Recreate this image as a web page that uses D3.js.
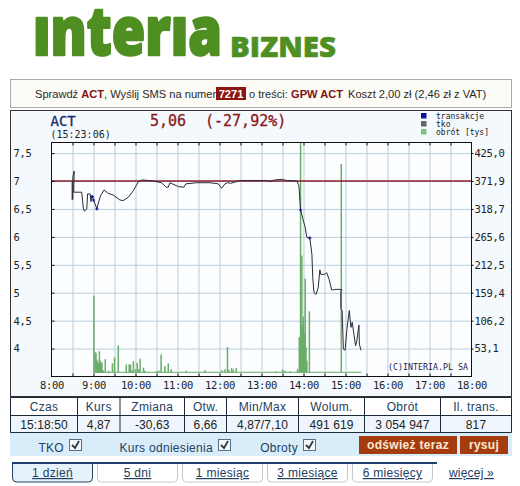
<!DOCTYPE html>
<html>
<head>
<meta charset="utf-8">
<script src="https://cdnjs.cloudflare.com/ajax/libs/d3/7.8.5/d3.min.js"></script>
<style>
html, body { margin: 0; padding: 0; background: #fff; }
svg { display: block; }
.mono { font-family: "DejaVu Sans Mono", monospace; }
.sans { font-family: "Liberation Sans", Arial, sans-serif; }
.axis path { display: none; }
.axis line { stroke: #111; }
.axis text { font-family: "DejaVu Sans Mono", monospace; font-size: 10.5px; letter-spacing: -0.3px; fill: #222; }
.grid path { display: none; }
.grid line { stroke: #b9cfdc; }
</style>
</head>
<body>
<div id="chart"></div>
<script>
var hourTicks = [8, 9, 10, 11, 12, 13, 14, 15, 16, 17, 18];
var halfHours = [8.5, 9, 9.5, 10, 10.5, 11, 11.5, 12, 12.5, 13, 13.5, 14, 14.5, 15, 15.5, 16, 16.5, 17, 17.5];
var priceTicks = [4, 4.5, 5, 5.5, 6, 6.5, 7, 7.5];
var obrotTicks = [53.1, 106.2, 159.4, 212.5, 265.6, 318.7, 371.9, 425.0];
var refPrice = 7;

// kurs: [godzina, cena]
var kurs = [[8.5,6.68],[8.51,7.08],[8.54,7.18],[8.53,6.8],[8.72,6.8],[8.76,6.5],[8.78,6.46],[8.84,6.5],[8.86,6.77],
  [8.92,6.77],[8.94,6.63],[8.96,6.74],[8.995,6.68],[9.08,6.5],[9.11,6.59],[9.17,6.74],[9.25,6.84],[9.35,6.78],
  [9.47,6.75],[9.63,6.66],[9.71,6.65],[9.83,6.71],[9.95,6.83],[10.07,6.99],[10.16,7.02],[10.42,7],[10.62,6.97],
  [10.73,6.89],[10.78,6.89],[10.82,6.97],[11.02,6.9],[11.15,6.89],[11.2,6.95],[11.46,6.97],[11.77,6.97],[11.97,6.95],
  [12.05,6.87],[12.13,6.95],[12.19,6.97],[12.27,6.96],[12.49,7.01],[13.12,7.01],[13.2,6.99],[13.32,7.02],[13.48,7.03],
  [13.6,7.01],[13.84,7],[13.89,6.92],[13.93,6.48],[14.04,6.17],[14.08,5.99],[14.15,5.98],[14.2,5.69],[14.22,5.27],
  [14.25,5],[14.3,4.97],[14.35,5.09],[14.39,5.41],[14.41,5.33],[14.51,5.33],[14.55,5.36],[14.61,5.24],[14.67,5.05],
  [14.71,5.05],[14.75,5.06],[14.87,5.06],[14.92,5.05],[14.89,5.03],[14.89,4.71],[14.92,4.68],[14.95,3.99],[14.99,3.97],
  [15.03,4.32],[15.09,4.68],[15.13,4.38],[15.16,4.47],[15.24,4.05],[15.27,4.14],[15.32,4.42],[15.33,4.08],[15.37,3.97]];
var tko = [[8.5,6.66],[8.5,7.0]];
var transakcje = [[8.97,6.72],[9,6.66],[9.08,6.5],[13.93,6.48],[14.15,5.98]];

// obrot [tys]: [godzina, wartosc]
var obrot = [[9.01,154],[9.04,46],[9.06,45],[9.08,32],[9.1,28],[9.12,24],[9.14,48],[9.16,30],[9.18,22],[9.2,27],[9.23,12],
  [9.28,33],[9.36,11],[9.45,25],[9.5,36],[9.59,59],[9.78,23],[9.85,23],[9.88,23],[9.92,12],[9.95,29],[10,14],[10.04,26],
  [10.08,14],[10.11,34],[10.19,17],[10.22,11],[10.5,10],[10.56,11],[10.61,42],[10.7,20],[10.78,25],[10.85,14],[11.21,11],
  [11.66,12],[12.06,12],[12.13,14],[12.19,56],[12.22,13],[12.29,16],[12.33,13],[12.4,16],[13.35,10],[13.5,13],[13.56,11],
  [13.68,10],[13.86,14],[13.9,75],[13.93,446],[13.96,230],[13.98,97],[14,114],[14.02,82],[14.04,186],[14.06,56],[14.08,30],
  [14.14,124],[14.9,404]];
var obrotBase = [[9,8],[15.38,8]];

var naglowki = ["Czas", "Kurs", "Zmiana", "Otw.", "Min/Max", "Wolum.", "Obrót", "Il. trans."];
var wartosci = ["15:18:50", "4,87", "-30,63", "6,66", "4,87/7,10", "491 619", "3 054 947", "817"];
var kolumny = [10.5, 77.5, 120, 184.5, 226.5, 298.5, 364.5, 440.5, 511.5];
var opcje = ["TKO", "Kurs odniesienia", "Obroty"];
var zakladki = ["1 dzień", "5 dni", "1 miesiąc", "3 miesiące", "6 miesięcy"];
var legenda = ["transakcje", "tko", "obrót [tys]"];
var legendaKolory = ["#10109a", "#666666", "#80c080"];

var svg = d3.select("#chart").append("svg").attr("width", 520).attr("height", 486);

// logo, szerokosc dopasowana przez skale
function logo(tekst, xx, yy, size, szer, gr) {
    var t = svg.append("text")
        .attr("font-family", "Open Sans").attr("font-weight", 800).attr("font-size", size)
        .attr("fill", "#4f8f22").attr("stroke", "#4f8f22").attr("stroke-width", gr)
        .attr("stroke-linejoin", "round").text(tekst);
    var s = szer / t.node().getComputedTextLength();
    t.attr("transform", "translate(" + xx + "," + yy + ") scale(" + s + ",1)");
}
logo("ınterıa", 33, 55, 67, 189, 2.5);
logo("BIZNES", 230, 56.5, 28, 106, 0.6);

// pasek SMS
svg.append("rect").attr("x", 10.5).attr("y", 79.5).attr("width", 501).attr("height", 28)
    .attr("fill", "#fdfbf6").attr("stroke", "#a9a9b0");
svg.append("rect").attr("x", 216).attr("y", 87).attr("width", 30).attr("height", 13).attr("fill", "#8e1410");
var sms = svg.append("text").attr("class", "sans").attr("x", 35).attr("y", 98)
    .attr("font-size", 11.1).attr("fill", "#2a2a2a");
sms.append("tspan").text("Sprawdź ");
sms.append("tspan").attr("fill", "#7d1414").attr("font-weight", "bold").text("ACT");
sms.append("tspan").text(", Wyślij SMS na numer");
svg.append("text").attr("class", "sans").attr("x", 231).attr("y", 98).attr("text-anchor", "middle")
    .attr("font-size", 11.1).attr("font-weight", "bold").attr("fill", "#fff").text("7271");
svg.append("text").attr("class", "sans").attr("x", 249).attr("y", 98).attr("font-size", 11.1).attr("fill", "#2a2a2a").text("o treści:");
svg.append("text").attr("class", "sans").attr("x", 291).attr("y", 98).attr("font-size", 11.1).attr("font-weight", "bold").attr("fill", "#7d1414").text("GPW ACT");
svg.append("text").attr("class", "sans").attr("x", 348).attr("y", 98).attr("font-size", 11.1).attr("fill", "#2a2a2a").text("Koszt 2,00 zł (2,46 zł z VAT)");

// panel wykresu
svg.append("rect").attr("x", 10.5).attr("y", 110.5).attr("width", 501).attr("height", 286)
    .attr("fill", "#f4f9fe").attr("stroke", "#333");

var margin = { left: 51.5, right: 471.5, top: 142.5, bottom: 376.5 };
var x = d3.scaleLinear().domain([8, 18]).range([margin.left, margin.right]);
var y = d3.scaleLinear().domain([3.5, 7.69]).range([margin.bottom, margin.top]);
var yObrot = d3.scaleLinear().domain([0, 445]).range([margin.bottom, margin.top]);
var plotW = margin.right - margin.left, plotH = margin.bottom - margin.top;

svg.append("rect").attr("x", margin.left).attr("y", margin.top).attr("width", plotW).attr("height", plotH).attr("fill", "#fbfdff");

svg.append("g").attr("class", "grid").attr("transform", "translate(0," + margin.bottom + ")")
    .call(d3.axisBottom(x).tickValues(halfHours).tickSize(-plotH).tickFormat(""));
svg.append("g").attr("class", "grid").attr("transform", "translate(" + margin.left + ",0)")
    .call(d3.axisLeft(y).tickValues(priceTicks).tickSize(-plotW).tickFormat(""));

// obrot
var kolorObrot = "#68ad68";
svg.append("g").selectAll("rect").data(obrot).enter().append("rect")
    .attr("x", function(d) { return x(d[0]) - 0.75; })
    .attr("width", 1.5)
    .attr("y", function(d) { return yObrot(d[1]); })
    .attr("height", function(d) { return yObrot(0) - yObrot(d[1]) - 4; })
    .attr("fill", kolorObrot);
svg.append("path").datum(obrotBase)
    .attr("d", d3.line().x(function(d) { return x(d[0]); }).y(function(d) { return yObrot(d[1]); }))
    .attr("fill", "none").attr("stroke", kolorObrot).attr("stroke-width", 1);

// kurs odniesienia
svg.append("line").attr("x1", x(8)).attr("x2", x(18)).attr("y1", y(refPrice)).attr("y2", y(refPrice))
    .attr("stroke", "#8c1c2c").attr("stroke-width", 1.4);

var linia = d3.line().x(function(d) { return x(d[0]); }).y(function(d) { return y(d[1]); });
svg.append("path").datum(tko).attr("d", linia).attr("fill", "none").attr("stroke", "#666").attr("stroke-width", 2);
svg.append("path").datum(kurs).attr("d", linia).attr("fill", "none").attr("stroke", "#2b2b38").attr("stroke-width", 1);
svg.append("g").selectAll("path").data(transakcje).enter().append("path")
    .attr("transform", function(d) { return "translate(" + x(d[0]) + "," + y(d[1]) + ")"; })
    .attr("d", d3.symbol().type(d3.symbolCross).size(6))
    .attr("fill", "#10109a");

// osie
svg.append("g").attr("class", "axis").attr("transform", "translate(0," + margin.bottom + ")")
    .call(d3.axisBottom(x).tickValues(hourTicks).tickSize(0).tickPadding(5)
        .tickFormat(function(d) { return d + ":00"; }));
svg.append("g").attr("class", "axis").attr("transform", "translate(0," + margin.bottom + ")")
    .call(d3.axisBottom(x).tickValues(halfHours).tickSize(-3).tickFormat(""));
svg.append("g").attr("class", "axis").attr("transform", "translate(0," + margin.top + ")")
    .call(d3.axisTop(x).tickValues(halfHours).tickSize(-3).tickFormat(""));
var lewa = svg.append("g").attr("class", "axis").attr("transform", "translate(" + margin.left + ",0)")
    .call(d3.axisLeft(y).tickValues(priceTicks).tickSize(-3)
        .tickFormat(function(d) { return String(d).replace(".", ","); }));
lewa.selectAll("text").attr("text-anchor", "start").attr("x", 13.5 - margin.left);
svg.append("g").attr("class", "axis").attr("transform", "translate(" + margin.right + ",0)")
    .call(d3.axisRight(yObrot).tickValues(obrotTicks).tickSize(2).tickPadding(1)
        .tickFormat(function(d) { return d.toFixed(1).replace(".", ","); }));
svg.append("rect").attr("x", margin.left).attr("y", margin.top).attr("width", plotW).attr("height", plotH)
    .attr("fill", "none").attr("stroke", "#111");

// naglowek wykresu
svg.append("text").attr("class", "mono").attr("x", 50.5).attr("y", 125.5).attr("font-size", 14).attr("stroke", "#1b2a6b").attr("stroke-width", 0.3).attr("fill", "#1b2a6b").text("ACT");
svg.append("text").attr("class", "mono").attr("x", 50.5).attr("y", 137.5).attr("font-size", 10).attr("fill", "#222").text("(15:23:06)");
svg.append("text").attr("class", "mono").attr("x", 150).attr("y", 126).attr("font-size", 15).attr("stroke", "#8c1a1a").attr("stroke-width", 0.3).attr("fill", "#8c1a1a").text("5,06");
svg.append("text").attr("class", "mono").attr("x", 205).attr("y", 126).attr("font-size", 15).attr("stroke", "#8c1a1a").attr("stroke-width", 0.3).attr("fill", "#8c1a1a").text("(-27,92%)");

// legenda
legenda.forEach(function(nazwa, i) {
    svg.append("rect").attr("x", 421).attr("y", 113 + i * 8).attr("width", 5.5).attr("height", 5.5).attr("fill", legendaKolory[i]);
    svg.append("text").attr("class", "mono").attr("x", 436).attr("y", 119 + i * 8)
        .attr("font-size", 8).attr("fill", "#222").text(nazwa);
});
svg.append("text").attr("class", "mono").attr("x", 388).attr("y", 370).attr("font-size", 8.3)
    .attr("fill", "#1b2050").text("(C)INTERIA.PL SA");

// tabela
svg.append("rect").attr("x", 10.5).attr("y", 397.5).attr("width", 501).attr("height", 18).attr("fill", "#ffffff");
svg.append("rect").attr("x", 10.5).attr("y", 415.5).attr("width", 501).attr("height", 17).attr("fill", "#eef5fc");
[397.5, 415.5, 432.5].forEach(function(yy) {
    svg.append("line").attr("x1", 10.5).attr("x2", 511.5).attr("y1", yy).attr("y2", yy).attr("stroke", "#1c2a3a");
});
kolumny.forEach(function(xx) {
    svg.append("line").attr("x1", xx).attr("x2", xx).attr("y1", 397.5).attr("y2", 432.5).attr("stroke", "#1c2a3a");
});
naglowki.forEach(function(t, i) {
    svg.append("text").attr("class", "sans").attr("x", (kolumny[i] + kolumny[i + 1]) / 2).attr("y", 411)
        .attr("text-anchor", "middle").attr("font-size", 12).attr("letter-spacing", 0.3).attr("fill", "#23405f").text(t);
    svg.append("text").attr("class", "sans").attr("x", (kolumny[i] + kolumny[i + 1]) / 2).attr("y", 429)
        .attr("text-anchor", "middle").attr("font-size", 12).attr("letter-spacing", 0.1).attr("fill", "#222").text(wartosci[i]);
});

// opcje
svg.append("rect").attr("x", 10).attr("y", 433).attr("width", 502).attr("height", 23).attr("fill", "#d9ecf9");
var opcjeX = [64, 213, 298], polaX = [69.5, 218.5, 303.5];
opcje.forEach(function(t, i) {
    svg.append("text").attr("class", "sans").attr("x", opcjeX[i]).attr("y", 452).attr("text-anchor", "end")
        .attr("font-size", 12).attr("letter-spacing", 0.3).attr("fill", "#23405f").text(t);
    svg.append("rect").attr("x", polaX[i]).attr("y", 439.5).attr("width", 12).attr("height", 11)
        .attr("fill", "#f4f6f8").attr("stroke", "#55708a");
    svg.append("path").attr("d", "M" + (polaX[i] + 2.5) + ",445 l3,3 l4,-7")
        .attr("fill", "none").attr("stroke", "#2a3a4a").attr("stroke-width", 1.8);
});
[[359, 98, "odśwież teraz"], [460, 48, "rysuj"]].forEach(function(b) {
    svg.append("rect").attr("x", b[0]).attr("y", 436).attr("width", b[1]).attr("height", 18).attr("fill", "#a43c10");
    svg.append("text").attr("class", "sans").attr("x", b[0] + b[1] / 2).attr("y", 449).attr("text-anchor", "middle")
        .attr("font-size", 12).attr("font-weight", "bold").attr("letter-spacing", 0.3).attr("fill", "#fbe8d0").text(b[2]);
});

// zakladki
var tabX = [12.5, 97.5, 182.5, 267.5, 352.5], tabW = 80;
zakladki.forEach(function(t, i) {
    svg.append("rect").attr("x", tabX[i]).attr("y", 459).attr("width", tabW).attr("height", 23).attr("rx", 4)
        .attr("fill", i == 0 ? "#e6f2fb" : "#fff").attr("stroke", i == 0 ? "#23405f" : "#c4c8cc");
    svg.append("text").attr("class", "sans").attr("x", tabX[i] + tabW / 2).attr("y", 477).attr("text-anchor", "middle")
        .attr("font-size", 12).attr("letter-spacing", 0.3).attr("text-decoration", "underline")
        .attr("fill", "#23405f").text(t);
});
svg.append("rect").attr("x", 0).attr("y", 456).attr("width", 520).attr("height", 6.5).attr("fill", "#fff");
svg.append("line").attr("x1", 12).attr("x2", 437).attr("y1", 463).attr("y2", 463).attr("stroke", "#1f3f6f").attr("stroke-width", 2);
svg.append("text").attr("class", "sans").attr("x", 449).attr("y", 477).attr("font-size", 12)
    .attr("letter-spacing", 0.2).attr("text-decoration", "underline").attr("fill", "#23405f").text("więcej »");
</script>
</body>
</html>
